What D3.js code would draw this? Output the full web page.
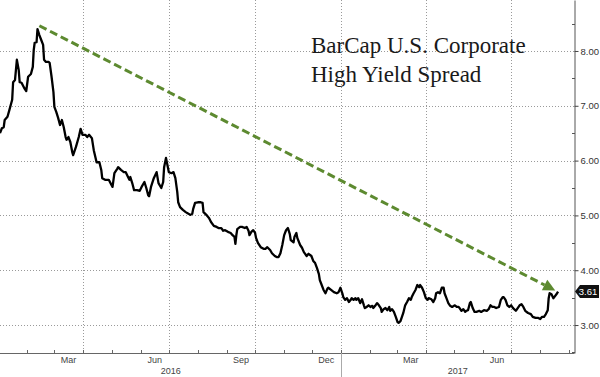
<!DOCTYPE html>
<html>
<head>
<meta charset="utf-8">
<script src="https://cdnjs.cloudflare.com/ajax/libs/d3/7.8.5/d3.min.js"></script>
<style>
body { margin: 0; background: #fff; }
svg { display: block; }
</style>
</head>
<body>
<div id="chart"></div>
<script>
// BarCap U.S. Corporate High Yield spread
var dates = [
  "2016-01-03","2016-01-05","2016-01-07","2016-01-08","2016-01-11","2016-01-13","2016-01-16","2016-01-17","2016-01-19","2016-01-20","2016-01-21","2016-01-23","2016-01-24","2016-01-26","2016-01-29","2016-01-31",
  "2016-02-02","2016-02-05","2016-02-07","2016-02-08","2016-02-09","2016-02-11","2016-02-12","2016-02-14","2016-02-16","2016-02-18","2016-02-19","2016-02-21","2016-02-24","2016-02-25","2016-02-27","2016-02-29",
  "2016-03-01","2016-03-03","2016-03-05","2016-03-07","2016-03-09","2016-03-11","2016-03-13","2016-03-14","2016-03-16","2016-03-18","2016-03-20","2016-03-21","2016-03-24","2016-03-27","2016-03-29","2016-03-31",
  "2016-04-03","2016-04-05","2016-04-07","2016-04-10","2016-04-12","2016-04-15","2016-04-18","2016-04-20","2016-04-21","2016-04-24","2016-04-28",
  "2016-05-01","2016-05-02","2016-05-04","2016-05-07","2016-05-08","2016-05-11","2016-05-14","2016-05-16","2016-05-18","2016-05-20","2016-05-21","2016-05-23","2016-05-25","2016-05-28","2016-05-31",
  "2016-06-02","2016-06-05","2016-06-07","2016-06-09","2016-06-10","2016-06-12","2016-06-15","2016-06-18","2016-06-20","2016-06-23","2016-06-25","2016-06-26","2016-06-28","2016-06-30",
  "2016-07-01","2016-07-04","2016-07-06","2016-07-08","2016-07-10","2016-07-11","2016-07-13","2016-07-16","2016-07-19","2016-07-21","2016-07-24","2016-07-26","2016-07-27","2016-07-29",
  "2016-08-01","2016-08-04","2016-08-06","2016-08-07","2016-08-10","2016-08-13","2016-08-15","2016-08-18","2016-08-21","2016-08-23","2016-08-26","2016-08-28","2016-08-30",
  "2016-09-02","2016-09-05","2016-09-07","2016-09-09","2016-09-10","2016-09-11","2016-09-12","2016-09-15","2016-09-17","2016-09-20","2016-09-22","2016-09-24","2016-09-25","2016-09-27","2016-09-29",
  "2016-10-01","2016-10-02","2016-10-04","2016-10-07","2016-10-10","2016-10-12","2016-10-14","2016-10-17","2016-10-19","2016-10-22","2016-10-24","2016-10-26","2016-10-28","2016-10-30",
  "2016-11-01","2016-11-03","2016-11-05","2016-11-07","2016-11-08","2016-11-11","2016-11-12","2016-11-14","2016-11-15","2016-11-18","2016-11-20","2016-11-22","2016-11-25","2016-11-27","2016-11-30",
  "2016-12-02","2016-12-04","2016-12-06","2016-12-08","2016-12-09","2016-12-11","2016-12-13","2016-12-15","2016-12-17","2016-12-18","2016-12-21","2016-12-24","2016-12-27","2016-12-29","2016-12-31",
  "2017-01-02","2017-01-03","2017-01-05","2017-01-07","2017-01-09","2017-01-11","2017-01-12","2017-01-14","2017-01-16","2017-01-17","2017-01-19","2017-01-21","2017-01-23","2017-01-25","2017-01-26","2017-01-28","2017-01-30",
  "2017-02-01","2017-02-03","2017-02-04","2017-02-06","2017-02-08","2017-02-10","2017-02-12","2017-02-13","2017-02-15","2017-02-17","2017-02-19","2017-02-21","2017-02-22","2017-02-24","2017-02-26","2017-02-28",
  "2017-03-02","2017-03-03","2017-03-05","2017-03-08","2017-03-10","2017-03-12","2017-03-14","2017-03-16","2017-03-17","2017-03-19","2017-03-21","2017-03-23","2017-03-25","2017-03-26","2017-03-28","2017-03-30",
  "2017-04-01","2017-04-03","2017-04-04","2017-04-07","2017-04-09","2017-04-11","2017-04-12","2017-04-14","2017-04-16","2017-04-18","2017-04-20","2017-04-21","2017-04-23","2017-04-25","2017-04-27","2017-04-29",
  "2017-05-02","2017-05-04","2017-05-06","2017-05-07","2017-05-09","2017-05-11","2017-05-13","2017-05-14","2017-05-16","2017-05-18","2017-05-19","2017-05-21","2017-05-23","2017-05-25","2017-05-28","2017-05-30",
  "2017-06-02","2017-06-05","2017-06-07","2017-06-09","2017-06-11","2017-06-13","2017-06-15","2017-06-18","2017-06-20","2017-06-22","2017-06-23","2017-06-25","2017-06-27","2017-06-29",
  "2017-07-01","2017-07-03","2017-07-06","2017-07-08","2017-07-10","2017-07-12","2017-07-14","2017-07-16","2017-07-19","2017-07-22","2017-07-24","2017-07-27","2017-07-30",
  "2017-08-01","2017-08-03","2017-08-05","2017-08-07","2017-08-09","2017-08-10","2017-08-11","2017-08-13","2017-08-15","2017-08-16","2017-08-19","2017-08-20"
];
var spread = [
  6.50,6.59,6.61,6.74,6.80,6.92,7.11,7.43,7.47,7.65,7.84,7.65,7.43,7.42,7.32,7.27,
  7.53,7.58,7.71,8.02,8.15,8.16,8.40,8.29,8.20,8.11,7.84,7.80,7.80,7.78,7.53,7.25,
  6.98,6.89,6.78,6.65,6.74,6.61,6.43,6.38,6.43,6.34,6.16,6.10,6.25,6.43,6.58,6.47,
  6.47,6.43,6.47,6.41,6.19,5.97,5.97,5.83,5.68,5.65,5.65,
  5.55,5.52,5.77,5.85,5.88,5.83,5.79,5.79,5.72,5.65,5.70,5.59,5.46,5.46,5.45,
  5.52,5.61,5.50,5.37,5.35,5.52,5.68,5.79,5.59,5.50,5.61,5.88,6.05,5.88,
  5.79,5.77,5.79,5.68,5.43,5.24,5.15,5.10,5.06,5.04,5.01,5.03,5.12,5.23,
  5.24,5.24,5.23,5.06,5.01,4.95,4.88,4.81,4.79,4.77,4.77,4.72,4.73,
  4.70,4.68,4.64,4.61,4.48,4.64,4.75,4.79,4.79,4.77,4.79,4.72,4.64,4.70,4.73,
  4.68,4.59,4.50,4.42,4.39,4.39,4.42,4.37,4.31,4.26,4.24,4.24,4.31,4.46,
  4.64,4.73,4.77,4.66,4.55,4.51,4.61,4.68,4.59,4.46,4.41,4.33,4.26,4.30,4.26,
  4.17,4.13,4.04,3.93,3.82,3.73,3.64,3.58,3.66,3.68,3.64,3.60,3.58,3.60,3.68,
  3.58,3.51,3.46,3.49,3.42,3.46,3.49,3.46,3.49,3.46,3.49,3.40,3.47,3.36,3.31,3.33,3.36,
  3.33,3.35,3.31,3.35,3.40,3.36,3.31,3.24,3.29,3.31,3.27,3.33,3.26,3.29,3.24,3.15,
  3.05,3.04,3.07,3.22,3.36,3.42,3.49,3.46,3.51,3.58,3.64,3.73,3.69,3.73,3.68,3.60,
  3.49,3.46,3.49,3.47,3.42,3.49,3.58,3.60,3.58,3.68,3.68,3.58,3.49,3.40,3.35,3.33,
  3.36,3.33,3.33,3.31,3.26,3.29,3.24,3.26,3.27,3.40,3.42,3.31,3.24,3.24,3.26,3.24,
  3.27,3.26,3.29,3.36,3.33,3.33,3.31,3.33,3.46,3.51,3.51,3.46,3.36,3.33,
  3.36,3.31,3.26,3.31,3.36,3.38,3.33,3.26,3.22,3.20,3.15,3.13,3.13,
  3.11,3.15,3.15,3.20,3.27,3.49,3.58,3.56,3.49,3.51,3.58,3.61
];

var yTicks = [3, 4, 5, 6, 7, 8];
var monthLabels = ["Mar", "Jun", "Sep", "Dec", "Mar", "Jun"];
var monthLabelDates = ["2016-03-16", "2016-06-16", "2016-09-16", "2016-12-16", "2017-03-16", "2017-06-16"];
var years = ["2016", "2017"];
var titleLines = ["BarCap U.S. Corporate", "High Yield Spread"];
// trend arrow from the February peak to the latest print
var arrowFrom = ["2016-02-14", 8.46];
var arrowTo = ["2017-08-17", 3.63];

var parse = d3.timeParse("%Y-%m-%d");
var data = dates.map(function(d, i) { return { date: parse(d), value: spread[i] }; });

var width = 600, height = 377;
var right = 574, bottom = 353;

var x = d3.scaleTime()
    .domain([parse("2016-01-01"), parse("2017-09-06")])
    .range([-1.9, right]);
var y = d3.scaleLinear()
    .domain([2.49, 8.93])
    .range([bottom, 0]);

var svg = d3.select("#chart")
  .append("svg")
    .attr("width", width)
    .attr("height", height);

// dotted grid
svg.append("g")
    .selectAll("line")
    .data(yTicks)
    .enter()
    .append("line")
    .attr("x1", 0).attr("x2", right)
    .attr("y1", function(d) { return Math.round(y(d)) + 0.5; })
    .attr("y2", function(d) { return Math.round(y(d)) + 0.5; })
    .style("stroke", "#9a9a9a")
    .style("stroke-dasharray", "1,2");

var quarters = x.ticks(d3.timeMonth.every(3)).filter(function(d) { return x(d) > 0; });
svg.append("g")
    .selectAll("line")
    .data(quarters)
    .enter()
    .append("line")
    .attr("x1", function(d) { return Math.round(x(d)) + 0.5; })
    .attr("x2", function(d) { return Math.round(x(d)) + 0.5; })
    .attr("y1", 0).attr("y2", bottom)
    .style("stroke", "#9a9a9a")
    .style("stroke-dasharray", "1,2");

// x axis
svg.append("line")
    .attr("x1", 0).attr("x2", right + 0.5)
    .attr("y1", bottom + 0.5).attr("y2", bottom + 0.5)
    .style("stroke", "#666");

svg.append("g")
    .selectAll("line")
    .data(x.ticks(d3.timeMonth.every(1)).filter(function(d) { return x(d) > 0 && x(d) < right; }))
    .enter()
    .append("line")
    .attr("x1", function(d) { return Math.round(x(d)) + 0.5; })
    .attr("x2", function(d) { return Math.round(x(d)) + 0.5; })
    .attr("y1", bottom - 3).attr("y2", bottom)
    .style("stroke", "#666");

// year separator
var yearStarts = years.map(function(d) { return parse(d + "-01-01"); });
svg.append("g")
    .selectAll("line")
    .data(yearStarts.filter(function(d) { return x(d) > 0; }))
    .enter()
    .append("line")
    .attr("x1", function(d) { return Math.round(x(d)) + 0.5; })
    .attr("x2", function(d) { return Math.round(x(d)) + 0.5; })
    .attr("y1", bottom).attr("y2", height)
    .style("stroke", "#aaa");

svg.append("g")
    .selectAll("text")
    .data(monthLabels)
    .enter()
    .append("text")
    .attr("x", function(d, i) { return x(parse(monthLabelDates[i])); })
    .attr("y", bottom + 10)
    .attr("text-anchor", "middle")
    .style("font-family", "Liberation Sans, Arial, sans-serif")
    .style("font-size", "9px")
    .style("fill", "#444")
    .text(function(d) { return d; });

svg.append("g")
    .selectAll("text")
    .data(years)
    .enter()
    .append("text")
    .attr("x", function(d, i) {
        var a = Math.max(0, x(yearStarts[i]));
        var b = Math.min(right, x(parse((+d + 1) + "-01-01")));
        return (a + b) / 2;
    })
    .attr("y", bottom + 21)
    .attr("text-anchor", "middle")
    .style("font-family", "Liberation Sans, Arial, sans-serif")
    .style("font-size", "9px")
    .style("fill", "#444")
    .text(function(d) { return d; });

// y axis on the right
var yAxis = svg.append("g")
    .attr("transform", "translate(" + (right + 0.5) + ",0)")
    .call(d3.axisRight(y).tickValues(yTicks).tickSize(4).tickSizeOuter(0).tickPadding(2)
        .tickFormat(d3.format(".2f")));
yAxis.select(".domain").style("stroke", "#555");
yAxis.selectAll(".tick line").style("stroke", "#444");
yAxis.selectAll(".tick text")
    .style("font-family", "Liberation Sans, Arial, sans-serif")
    .style("font-size", "9.5px")
    .style("fill", "#333");

svg.append("g")
    .selectAll("line")
    .data(yTicks.map(function(d) { return d - 0.5; }).concat([8.5]))
    .enter()
    .append("line")
    .attr("x1", right - 2).attr("x2", right + 1)
    .attr("y1", function(d) { return Math.round(y(d)) + 0.5; })
    .attr("y2", function(d) { return Math.round(y(d)) + 0.5; })
    .style("stroke", "#555");

// title
svg.append("g")
    .selectAll("text")
    .data(titleLines)
    .enter()
    .append("text")
    .attr("x", 311)
    .attr("y", function(d, i) { return 53 + i * 29; })
    .style("font-family", "Liberation Serif, Times New Roman, serif")
    .style("font-size", "23px")
    .style("fill", "#1a1a1a")
    .text(function(d) { return d; });

// the series
svg.append("path")
    .datum(data)
    .attr("d", d3.line()
        .x(function(d) { return x(d.date); })
        .y(function(d) { return y(d.value); }))
    .style("fill", "none")
    .style("stroke", "#000")
    .style("stroke-width", 2.3)
    .style("stroke-linejoin", "round");

// green dashed trend arrow
var ax0 = x(parse(arrowFrom[0])), ay0 = y(arrowFrom[1]);
var ax1 = x(parse(arrowTo[0])), ay1 = y(arrowTo[1]);
var ang = Math.atan2(ay1 - ay0, ax1 - ax0);
var headLen = 12, headW = 6;
var bx = ax1 - headLen * Math.cos(ang), by = ay1 - headLen * Math.sin(ang);
svg.append("line")
    .attr("x1", ax0).attr("y1", ay0)
    .attr("x2", bx).attr("y2", by)
    .style("stroke", "#5d8a30")
    .style("stroke-width", 3)
    .style("stroke-dasharray", "8,4");
svg.append("path")
    .attr("d", "M" + ax1 + "," + ay1
        + "L" + (bx + headW * Math.sin(ang)) + "," + (by - headW * Math.cos(ang))
        + "L" + (bx - headW * Math.sin(ang)) + "," + (by + headW * Math.cos(ang)) + "Z")
    .style("fill", "#5d8a30");

// last value tag
var last = data[data.length - 1];
var ty = y(last.value);
svg.append("path")
    .attr("d", "M" + (right + 1) + "," + ty + "L" + (right + 6) + "," + (ty - 6.5)
        + "L" + 599 + "," + (ty - 6.5) + "L" + 599 + "," + (ty + 6.5)
        + "L" + (right + 6) + "," + (ty + 6.5) + "Z")
    .style("fill", "#111");
svg.append("text")
    .attr("x", 588)
    .attr("y", ty)
    .attr("dy", "0.35em")
    .attr("text-anchor", "middle")
    .style("font-family", "Liberation Sans, Arial, sans-serif")
    .style("font-size", "9.5px")
    .style("fill", "#fff")
    .text(last.value.toFixed(2));
</script>
</body>
</html>
